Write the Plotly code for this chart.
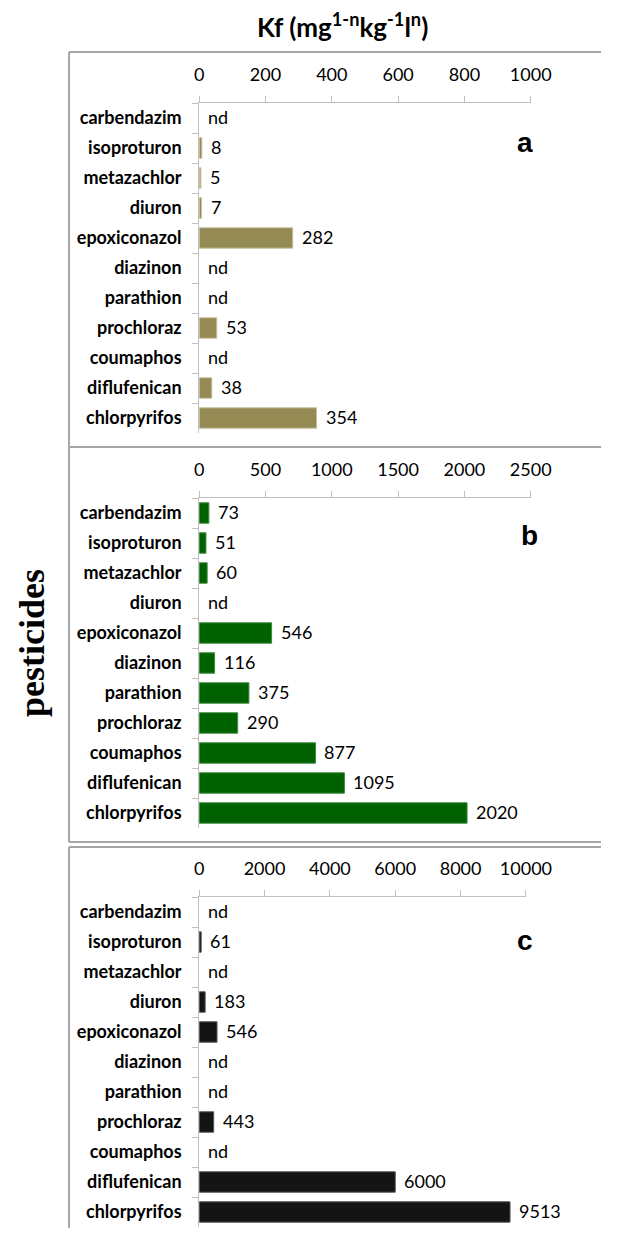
import plotly.graph_objects as go

pesticides = ["carbendazim", "isoproturon", "metazachlor", "diuron", "epoxiconazol",
              "diazinon", "parathion", "prochloraz", "coumaphos", "diflufenican", "chlorpyrifos"]
kf_a = [None, 8, 5, 7, 282, None, None, 53, None, 38, 354]
kf_b = [73, 51, 60, None, 546, 116, 375, 290, 877, 1095, 2020]
kf_c = [None, 61, None, 183, 546, None, None, 443, None, 6000, 9513]
panel_letters = ["a", "b", "c"]
x_max = [1000, 2500, 10000]
x_dtick = [200, 500, 2000]
bar_colors = ["#948A54", "#006100", "#141414"]
edge_colors = ["#c9c09a", "#3d8a3d", "#555555"]

# page has an 8px body margin on every side; figure fits inside the 635x1236 window
OFF = 8
W, H = 635 - 2 * OFF, 1236 - 2 * OFF


def px(x):
    return (x - OFF) / W


def py(y):
    return 1 - (y - OFF) / H


# layout geometry (reference pixels)
plot_rows = [(103, 433), (498, 828), (897, 1227)]
plot_cols = [(204, 553), (204, 553), (204, 548)]
letter_pos = [(547, 143), (552, 535), (547, 940)]
boxes = [(52, 447), (447, 842), (847, None)]

FONT = "Lato, 'Open Sans', sans-serif"
series = [kf_a, kf_b, kf_c]

fig = go.Figure()
annotations = []
layout_axes = {}
for i, vals in enumerate(series):
    n = i + 1
    xa = "x" if n == 1 else f"x{n}"
    ya = "y" if n == 1 else f"y{n}"
    fig.add_trace(go.Bar(
        x=vals, y=pesticides, orientation="h", width=0.68,
        marker=dict(color=bar_colors[i], line=dict(color=edge_colors[i], width=1)),
        xaxis=xa, yaxis=ya, showlegend=False, hoverinfo="x+y",
    ))
    for cat, v in zip(pesticides, vals):
        annotations.append(dict(
            x=(v if v is not None else 0), y=cat, xref=xa, yref=ya,
            text=(str(v) if v is not None else "nd"), showarrow=False,
            xanchor="left", yanchor="middle", xshift=7, yshift=1,
            font=dict(family=FONT, size=18, color="#000"),
        ))
    layout_axes["xaxis" if n == 1 else f"xaxis{n}"] = dict(
        domain=[px(plot_cols[i][0]), px(plot_cols[i][1])],
        anchor=ya, side="top", range=[0, x_max[i]], dtick=x_dtick[i], tick0=0,
        tickformat="d",
        showgrid=False, zeroline=False, showline=True, linecolor="#c0c0c0", linewidth=1,
        ticks="outside", ticklen=6, tickcolor="#c0c0c0", ticklabelstandoff=8,
        tickfont=dict(family=FONT, size=18, color="#000"), fixedrange=True,
    )
    layout_axes["yaxis" if n == 1 else f"yaxis{n}"] = dict(
        domain=[py(plot_rows[i][1]), py(plot_rows[i][0])],
        anchor=xa, type="category", categoryorder="array", categoryarray=pesticides,
        range=[len(pesticides) - 0.5, -0.5],
        showgrid=False, zeroline=False, showline=True, linecolor="#c0c0c0", linewidth=1,
        ticks="outside", tickson="boundaries", ticklen=6, tickcolor="#c0c0c0",
        ticklabelstandoff=13,
        tickfont=dict(family=FONT, size=18, color="#000", weight="bold"), fixedrange=True,
    )
    lx, ly = letter_pos[i]
    annotations.append(dict(
        x=px(lx), y=py(ly), xref="paper", yref="paper", text=f"<b>{panel_letters[i]}</b>",
        showarrow=False, xanchor="center", yanchor="middle",
        font=dict(family="'Liberation Sans', Arial, sans-serif", size=28, color="#000"),
    ))

annotations.append(dict(
    x=px(355), y=py(25), xref="paper", yref="paper",
    text="<b>Kf (mg<sup>1-n</sup>kg<sup>-1</sup>l<sup>n</sup>)</b>",
    showarrow=False, xanchor="center", yanchor="middle",
    font=dict(family=FONT, size=26, color="#000"),
))
annotations.append(dict(
    x=px(28), y=py(643), xref="paper", yref="paper", text="<b>pesticides</b>",
    textangle=-90, showarrow=False, xanchor="center", yanchor="middle",
    font=dict(family="'Liberation Serif', 'Times New Roman', serif", size=36, color="#000"),
))

# panel frames: top, left, bottom edges (open to the right edge of the page)
shapes = []
frame = dict(color="#a6a6a6", width=2)
xl = px(67)
for (y0, y1) in boxes:
    shapes.append(dict(type="line", xref="paper", yref="paper",
                       x0=xl, x1=1, y0=py(y0), y1=py(y0), line=frame, layer="below"))
    yb = py(y1) if y1 is not None else 0
    shapes.append(dict(type="line", xref="paper", yref="paper",
                       x0=xl, x1=xl, y0=yb, y1=py(y0), line=frame, layer="below"))
    if y1 is not None:
        shapes.append(dict(type="line", xref="paper", yref="paper",
                           x0=xl, x1=1, y0=yb, y1=yb, line=frame, layer="below"))

fig.update_layout(
    width=W, height=H, margin=dict(l=0, r=0, t=0, b=0),
    paper_bgcolor="white", plot_bgcolor="white",
    annotations=annotations, shapes=shapes, bargap=0.3,
    **layout_axes,
)

fig.write_html("out.html")
